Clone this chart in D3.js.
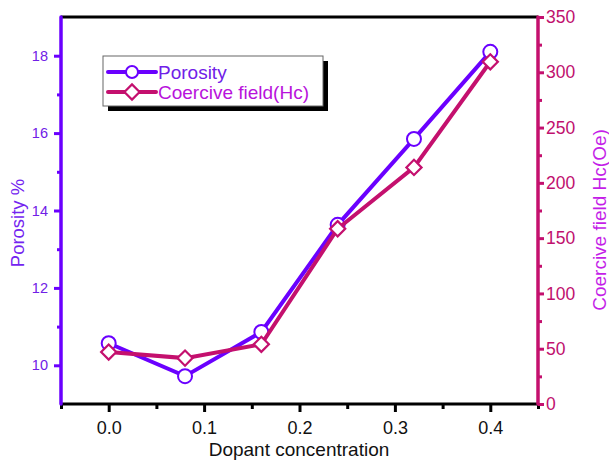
<!DOCTYPE html>
<html>
<head>
<meta charset="utf-8">
<script src="https://cdn.jsdelivr.net/npm/d3@7"></script>
<style>
  body { margin: 0; background: #fff; }
  svg { font-family: "Liberation Sans", Arial, sans-serif; }
</style>
</head>
<body>
<div id="chart"></div>
<script>
// data
const dopant = [0, 0.08, 0.16, 0.24, 0.32, 0.40]
const porosity = [10.57, 9.72, 10.86, 13.63, 15.85, 18.1]
const coercive = [47, 41.5, 54, 158.5, 214, 309.5]

const xTicks = [0, 0.1, 0.2, 0.3, 0.4]
const xMinor = [-0.05, 0.05, 0.15, 0.25, 0.35, 0.45]
const leftTicks = [10, 12, 14, 16, 18]
const leftMinor = [11, 13, 15, 17]
const rightTicks = [0, 50, 100, 150, 200, 250, 300, 350]
const rightMinor = [25, 75, 125, 175, 225, 275, 325]

const width = 609
const height = 462
const plotLeft = 61, plotRight = 538, plotTop = 17, plotBottom = 404

const violet = '#6a00ff'
const magenta = '#c4106e'

const svg = d3.select('#chart')
    .append('svg')
    .attr('width', width)
    .attr('height', height)

const xScale = d3.scaleLinear().domain([-0.05, 0.45]).range([plotLeft, plotRight])
const yLeft = d3.scaleLinear().domain([9, 19]).range([plotBottom, plotTop])
const yRight = d3.scaleLinear().domain([0, 350]).range([plotBottom, plotTop])

// frame: black top and bottom
svg.append('line')
    .attr('x1', plotLeft).attr('x2', plotRight).attr('y1', plotTop).attr('y2', plotTop)
    .attr('stroke', '#000').attr('stroke-width', 3)

const styleAxis = (g, color, fontSize, labelColor) => {
    g.select('.domain').remove()
    g.selectAll('.tick line').attr('stroke', color).attr('stroke-width', 3)
    g.selectAll('.tick text')
        .attr('fill', labelColor)
        .style('font-size', fontSize + 'px')
        .style('font-family', '"Liberation Sans", Arial, sans-serif')
}

// x axis
const xAxis = svg.append('g')
    .attr('transform', 'translate(0,' + plotBottom + ')')
    .call(d3.axisBottom(xScale).tickValues(xTicks).tickFormat(d3.format('.1f')).tickSize(8).tickPadding(9))
styleAxis(xAxis, '#000', 18, '#111')
svg.append('g')
    .attr('transform', 'translate(0,' + plotBottom + ')')
    .call(d3.axisBottom(xScale).tickValues(xMinor).tickFormat('').tickSize(5))
    .call(g => styleAxis(g, '#000', 10, '#000'))
svg.append('line')
    .attr('x1', plotLeft).attr('x2', plotRight).attr('y1', plotBottom).attr('y2', plotBottom)
    .attr('stroke', '#000').attr('stroke-width', 3)

// left axis
const yAxisL = svg.append('g')
    .attr('transform', 'translate(' + plotLeft + ',0)')
    .call(d3.axisLeft(yLeft).tickValues(leftTicks).tickSize(7).tickPadding(6))
styleAxis(yAxisL, violet, 14.5, '#7020e6')
svg.append('g')
    .attr('transform', 'translate(' + plotLeft + ',0)')
    .call(d3.axisLeft(yLeft).tickValues(leftMinor).tickFormat('').tickSize(4))
    .call(g => styleAxis(g, violet, 10, violet))
svg.append('line')
    .attr('x1', plotLeft).attr('x2', plotLeft).attr('y1', plotTop).attr('y2', plotBottom)
    .attr('stroke', violet).attr('stroke-width', 3.5).attr('stroke-linecap', 'round')

// right axis
const yAxisR = svg.append('g')
    .attr('transform', 'translate(' + plotRight + ',0)')
    .call(d3.axisRight(yRight).tickValues(rightTicks).tickSize(6).tickPadding(2))
styleAxis(yAxisR, magenta, 17.5, '#c0106e')
svg.append('g')
    .attr('transform', 'translate(' + plotRight + ',0)')
    .call(d3.axisRight(yRight).tickValues(rightMinor).tickFormat('').tickSize(4))
    .call(g => styleAxis(g, magenta, 10, magenta))
svg.append('line')
    .attr('x1', plotRight).attr('x2', plotRight).attr('y1', plotTop).attr('y2', plotBottom)
    .attr('stroke', magenta).attr('stroke-width', 3.5).attr('stroke-linecap', 'round')

// axis titles
svg.append('text')
    .attr('x', 299).attr('y', 456)
    .attr('text-anchor', 'middle')
    .style('font-size', '19px')
    .attr('fill', '#111')
    .text('Dopant concentration')

svg.append('text')
    .attr('transform', 'translate(24,223) rotate(-90)')
    .attr('text-anchor', 'middle')
    .style('font-size', '18.5px')
    .attr('fill', '#7424f0')
    .text('Porosity %')

svg.append('text')
    .attr('transform', 'translate(606,220) rotate(-90)')
    .attr('text-anchor', 'middle')
    .style('font-size', '19px')
    .attr('fill', '#c41ee8')
    .text('Coercive field Hc(Oe)')

// series
const porData = dopant.map((d, i) => [d, porosity[i]])
const hcData = dopant.map((d, i) => [d, coercive[i]])

const lineL = d3.line().x(d => xScale(d[0])).y(d => yLeft(d[1]))
const lineR = d3.line().x(d => xScale(d[0])).y(d => yRight(d[1]))

svg.append('path')
    .datum(porData)
    .attr('d', lineL)
    .attr('fill', 'none')
    .attr('stroke', violet)
    .attr('stroke-width', 4)

svg.selectAll('.por')
    .data(porData)
    .enter()
    .append('circle')
    .attr('class', 'por')
    .attr('cx', d => xScale(d[0]))
    .attr('cy', d => yLeft(d[1]))
    .attr('r', 7)
    .attr('fill', '#fff')
    .attr('stroke', violet)
    .attr('stroke-width', 2)

svg.append('path')
    .datum(hcData)
    .attr('d', lineR)
    .attr('fill', 'none')
    .attr('stroke', magenta)
    .attr('stroke-width', 4)

const diamond = d3.symbol().type(d3.symbolSquare).size(115)

svg.selectAll('.hc')
    .data(hcData)
    .enter()
    .append('path')
    .attr('class', 'hc')
    .attr('d', diamond)
    .attr('transform', d => 'translate(' + xScale(d[0]) + ',' + yRight(d[1]) + ') rotate(45)')
    .attr('fill', '#fff')
    .attr('stroke', magenta)
    .attr('stroke-width', 2.2)

// legend
const legend = svg.append('g')
legend.append('rect')
    .attr('x', 108).attr('y', 61).attr('width', 220).attr('height', 50)
    .attr('fill', '#000')
legend.append('rect')
    .attr('x', 103).attr('y', 56).attr('width', 220).attr('height', 50)
    .attr('fill', '#fff').attr('stroke', '#666').attr('stroke-width', 1)

const legendItems = [
    { name: 'Porosity', color: violet, text: '#7020e8', y: 72, mark: 'circle' },
    { name: 'Coercive field(Hc)', color: magenta, text: '#b812dc', y: 92, mark: 'diamond' }
]

legendItems.forEach(item => {
    legend.append('line')
        .attr('x1', 108).attr('x2', 156).attr('y1', item.y).attr('y2', item.y)
        .attr('stroke', item.color).attr('stroke-width', 4).attr('stroke-linecap', 'round')
    if (item.mark === 'circle') {
        legend.append('circle')
            .attr('cx', 132).attr('cy', item.y).attr('r', 6)
            .attr('fill', '#fff').attr('stroke', item.color).attr('stroke-width', 2)
    } else {
        legend.append('path')
            .attr('d', diamond)
            .attr('transform', 'translate(132,' + item.y + ') rotate(45)')
            .attr('fill', '#fff').attr('stroke', item.color).attr('stroke-width', 2.2)
    }
    legend.append('text')
        .attr('x', 158).attr('y', item.y + 7)
        .style('font-size', '19px')
        .attr('fill', item.text)
        .text(item.name)
})
</script>
</body>
</html>
